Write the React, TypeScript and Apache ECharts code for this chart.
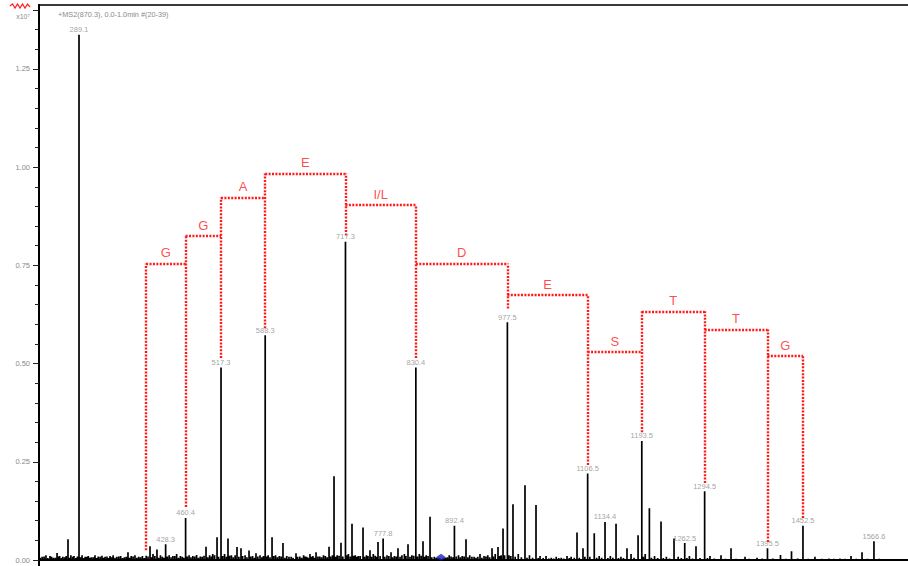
import React, { useEffect, useRef } from "react";
import * as echarts from "echarts";

// ---- data ----
const peakMz = [
  230, 236, 242.5, 248, 253.8, 258, 263, 271.4, 276, 281,
  289.1, 294, 299, 304, 309, 314.8, 320, 326, 331, 338.9,
  344, 350, 356, 362, 367.8, 373, 379, 385, 391, 397,
  403.2, 408, 414.4, 420, 428.3, 434, 440, 446, 452, 460.4,
  466, 472, 478, 484, 493.2, 499, 504, 510.9, 517.3, 523,
  528.5, 534, 543, 549.4, 556, 562.3, 568, 573.5, 580, 588.3,
  593, 599.3, 605, 611, 616.9, 623, 630, 637.8, 644, 650,
  655, 660.3, 665, 670, 676, 682, 690.9, 698.9, 704, 710.1,
  717.3, 722, 727.8, 733, 738, 745.5, 751, 756.7, 762, 769.6,
  777.8, 784, 790.5, 796, 801.7, 808, 812, 817.8, 824, 830.4,
  836, 841.9, 847, 853.2, 860, 866, 878, 884, 892.4, 899,
  905, 911, 917, 924, 933.5, 940, 946, 952.8, 958, 962.4,
  970.5, 977.5, 986.5, 995, 1005.8, 1013, 1023.5, 1030, 1039.6, 1048,
  1056, 1064, 1073.3, 1080, 1089.4, 1099, 1106.5, 1117.1, 1125, 1134.4,
  1143, 1152.1, 1160, 1169.7, 1176.2, 1187.5, 1193.5, 1199, 1205.7, 1214,
  1224.4, 1233, 1245.3, 1252, 1262.5, 1270, 1280.6, 1294.5, 1303.1, 1320.8,
  1336.9, 1359.4, 1378.6, 1395.5, 1416.4, 1434.1, 1452.5, 1471.8, 1494.3, 1512,
  1529.7, 1547.4, 1566.6,
];
const peakIntensity = [
  0.008, 0.012, 0.01, 0.006, 0.018, 0.01, 0.008, 0.053, 0.012, 0.01,
  1.337, 0.012, 0.008, 0.01, 0.007, 0.012, 0.009, 0.011, 0.008, 0.01,
  0.012, 0.008, 0.01, 0.007, 0.02, 0.01, 0.012, 0.008, 0.01, 0.011,
  0.035, 0.015, 0.027, 0.012, 0.04, 0.012, 0.01, 0.015, 0.01, 0.107,
  0.012, 0.01, 0.013, 0.009, 0.034, 0.012, 0.015, 0.058, 0.49, 0.015,
  0.055, 0.012, 0.033, 0.03, 0.012, 0.024, 0.01, 0.017, 0.012, 0.572,
  0.012, 0.058, 0.012, 0.01, 0.043, 0.01, 0.008, 0.017, 0.009, 0.012,
  0.008, 0.015, 0.01, 0.02, 0.009, 0.012, 0.034, 0.213, 0.012, 0.044,
  0.81, 0.015, 0.092, 0.012, 0.01, 0.083, 0.012, 0.025, 0.015, 0.046,
  0.055, 0.012, 0.02, 0.01, 0.03, 0.012, 0.015, 0.04, 0.012, 0.49,
  0.015, 0.048, 0.012, 0.11, 0.008, 0.006, 0.006, 0.012, 0.087, 0.012,
  0.01, 0.053, 0.012, 0.008, 0.015, 0.01, 0.012, 0.03, 0.015, 0.033,
  0.08, 0.605, 0.142, 0.015, 0.19, 0.012, 0.14, 0.01, 0.01, 0.006,
  0.008, 0.006, 0.01, 0.008, 0.07, 0.03, 0.22, 0.068, 0.01, 0.097,
  0.01, 0.092, 0.008, 0.03, 0.015, 0.063, 0.303, 0.015, 0.132, 0.01,
  0.098, 0.008, 0.055, 0.008, 0.043, 0.01, 0.035, 0.175, 0.01, 0.012,
  0.03, 0.008, 0.006, 0.03, 0.013, 0.022, 0.087, 0.008, 0.004, 0.004,
  0.01, 0.02, 0.048,
];
// small baseline blips between the main peaks, [m/z, intensity]
const baselineNoise: [number, number][] = [
  [227, 0.006], [233, 0.009], [239, 0.005], [245, 0.008], [251, 0.006], [256, 0.009], [261, 0.005],
  [266, 0.007], [268.5, 0.01], [274, 0.006], [279, 0.008], [284, 0.005], [286.5, 0.009], [291.5, 0.007],
  [296.5, 0.005], [301.5, 0.008], [306.5, 0.006], [312, 0.007], [317.5, 0.005], [323, 0.008],
  [328.5, 0.006], [334, 0.009], [336.5, 0.005], [341.5, 0.007], [347, 0.006], [353, 0.009],
  [359, 0.005], [365, 0.008], [370.5, 0.006], [376, 0.009], [382, 0.006], [388, 0.007],
  [394, 0.005], [400, 0.009], [405.5, 0.007], [411, 0.01], [417, 0.006], [423, 0.008],
  [425.5, 0.006], [431, 0.009], [437, 0.007], [443, 0.01], [449, 0.006], [455, 0.008],
  [457.5, 0.006], [463, 0.009], [469, 0.007], [475, 0.009], [481, 0.006], [487, 0.008],
  [490, 0.011], [496, 0.007], [502, 0.009], [507, 0.012], [513.5, 0.008], [520, 0.01],
  [526, 0.008], [531, 0.011], [537, 0.007], [540, 0.012], [546, 0.008], [552, 0.01],
  [559, 0.007], [565, 0.009], [571, 0.006], [576.5, 0.009], [583, 0.007], [585.5, 0.01],
  [591, 0.009], [596, 0.007], [602, 0.01], [608, 0.007], [614, 0.009], [620, 0.006],
  [626.5, 0.008], [633, 0.006], [640.5, 0.008], [647, 0.006], [652.5, 0.009], [657.5, 0.006],
  [662.5, 0.008], [667.5, 0.006], [673, 0.009], [679, 0.007], [685, 0.01], [688, 0.007],
  [693.5, 0.009], [696.5, 0.012], [701.5, 0.008], [707, 0.011], [713, 0.009], [719.5, 0.012],
  [725, 0.009], [730.5, 0.011], [735.5, 0.008], [741, 0.01], [748, 0.008], [753.5, 0.01],
  [759, 0.008], [765, 0.011], [767, 0.008], [773, 0.01], [780.5, 0.008], [787, 0.01],
  [793, 0.007], [799, 0.009], [805, 0.008], [814.5, 0.01], [821, 0.008], [827, 0.011],
  [833, 0.009], [839, 0.011], [844.5, 0.008], [850, 0.01], [856, 0.007], [863, 0.006],
  [869, 0.005], [875, 0.005], [881, 0.007], [887, 0.009], [890, 0.007], [895.5, 0.009],
  [902, 0.007], [908, 0.009], [914, 0.007], [920.5, 0.008], [927, 0.006], [930, 0.008],
  [936.5, 0.006], [943, 0.009], [949, 0.007], [955, 0.009], [965, 0.01], [967.5, 0.012],
  [973, 0.012], [980, 0.012], [983, 0.01], [990, 0.008], [1000, 0.007], [1009, 0.006],
  [1018, 0.006], [1027, 0.005], [1035, 0.005], [1044, 0.004], [1052, 0.004], [1060, 0.005],
  [1068, 0.004], [1077, 0.005], [1085, 0.006], [1093, 0.006], [1102, 0.008], [1110, 0.008],
  [1121, 0.006], [1129, 0.006], [1139, 0.005], [1147, 0.006], [1156, 0.005], [1164, 0.005],
  [1181, 0.006], [1196, 0.008], [1209, 0.006], [1219, 0.005], [1228, 0.005], [1238, 0.004],
  [1257, 0.005], [1266, 0.005], [1275, 0.004], [1287, 0.005], [1299, 0.005], [1310, 0.004],
  [1328, 0.003], [1345, 0.003], [1366, 0.003], [1387, 0.004], [1404, 0.004], [1425, 0.003],
  [1444, 0.004], [1461, 0.003], [1483, 0.003], [1502, 0.003], [1520, 0.003], [1538, 0.003],
  [1556, 0.003], [1575, 0.003], [1590, 0.002], [1605, 0.002],
];
const labeledMz = [
  289.1, 428.3, 460.4, 517.3, 588.3, 717.3, 777.8, 830.4, 892.4,
  977.5, 1106.5, 1134.4, 1193.5, 1262.5, 1294.5, 1395.5, 1452.5, 1566.6,
];
const residues = ["G", "G", "A", "E", "I/L", "D", "E", "S", "T", "T", "G"];
const ladderMz = [397, 460.4, 517.3, 588.3, 717.3, 830.4, 977.5, 1106.5, 1193.5, 1294.5, 1395.5, 1452.5];
const ladderBase = [0.025, 0.135, 0.514, 0.59, 0.826, 0.514, 0.64, 0.242, 0.325, 0.196, 0.046, 0.107];
const bracketTop = [0.755, 0.826, 0.923, 0.984, 0.903, 0.755, 0.674, 0.529, 0.633, 0.587, 0.519];
const precursorMz = 870.8;
const headerText = "+MS2(870.3), 0.0-1.0min #(20-39)";
const scaleText = "x10\u2077";

const FONT = "'Liberation Sans', Arial, Helvetica, sans-serif";

export default function App() {
  const ref = useRef<HTMLDivElement>(null);

  useEffect(() => {
    if (!ref.current) return;
    const chart = echarts.init(ref.current, undefined, { renderer: "svg" });

    const mainPeaks = peakMz.map((m, i) => [m, peakIntensity[i]] as [number, number]);
    const peaks = mainPeaks.concat(baselineNoise).sort((a, b) => a[0] - b[0]);
    const stick: [number, number][] = [];
    peaks.forEach(([m, h]) => {
      stick.push([m, 0], [m, h], [m, 0]);
    });

    const intensityOf = (m: number) => {
      const p = mainPeaks.find((q) => Math.abs(q[0] - m) < 0.05);
      return p ? p[1] : 0;
    };

    const segs: { coords: [number, number][] }[] = [];
    ladderMz.forEach((m, i) => {
      const top = Math.max(i > 0 ? bracketTop[i - 1] : 0, i < bracketTop.length ? bracketTop[i] : 0);
      segs.push({ coords: [[m, ladderBase[i]], [m, top]] });
    });
    bracketTop.forEach((h, i) => {
      segs.push({ coords: [[ladderMz[i], h], [ladderMz[i + 1], h]] });
    });

    const grey = "#8a8a8a";

    chart.setOption({
      animation: false,
      backgroundColor: "#ffffff",
      textStyle: { fontFamily: FONT },
      grid: { left: 39, right: 0, top: 10, bottom: 6, containLabel: false, outerBoundsMode: "none" },
      xAxis: [
        {
          type: "value",
          min: 224.8,
          max: 1621.3,
          axisLine: { show: true, onZero: false, lineStyle: { color: "#000", width: 2 } },
          axisTick: { show: false },
          axisLabel: { show: false },
          splitLine: { show: false },
        },
      ],
      yAxis: [
        {
          type: "value",
          min: 0,
          max: 1.4,
          interval: 0.05,
          axisLine: { show: true, lineStyle: { color: "#000", width: 2 } },
          axisTick: { show: true, length: 4, lineStyle: { color: "#222", width: 1 } },
          axisLabel: { show: false },
          splitLine: { show: false },
        },
        {
          type: "value",
          min: 0,
          max: 1.4,
          interval: 0.25,
          position: "left",
          axisLine: { show: false },
          axisTick: { show: true, length: 6, lineStyle: { color: "#222", width: 1 } },
          axisLabel: {
            show: true,
            margin: 9,
            fontSize: 7.5,
            color: grey,
            fontFamily: FONT,
            formatter: (v: number) => (Math.round(v * 100) % 25 === 0 ? v.toFixed(2) : ""),
          },
          splitLine: { show: false },
        },
      ],
      series: [
        {
          type: "line",
          data: stick,
          showSymbol: false,
          symbol: "none",
          silent: true,
          lineStyle: { color: "#000", width: 1.7 },
          z: 3,
        },
        {
          type: "lines",
          coordinateSystem: "cartesian2d",
          data: segs,
          silent: true,
          lineStyle: { color: "#ff1a1a", width: 2.4, type: [2, 1.4], opacity: 1 },
          z: 5,
        },
        {
          type: "scatter",
          data: labeledMz.map((m) => [m, intensityOf(m)]),
          symbolSize: 0,
          silent: true,
          label: {
            show: true,
            position: "top",
            distance: 1,
            fontSize: 7.5,
            color: grey,
            textBorderWidth: 0,
            fontFamily: FONT,
            formatter: (p: any) => p.value[0].toFixed(1),
          },
          z: 6,
        },
        {
          type: "scatter",
          data: residues.map((r, i) => ({
            name: r,
            value: [(ladderMz[i] + ladderMz[i + 1]) / 2, bracketTop[i]],
          })),
          symbolSize: 0,
          silent: true,
          label: {
            show: true,
            position: "top",
            distance: 4,
            fontSize: 13,
            color: "#ff1a1a",
            textBorderWidth: 0,
            fontFamily: FONT,
            formatter: "{b}",
          },
          z: 6,
        },
        {
          type: "scatter",
          data: [[precursorMz, 0.007]],
          symbol: "diamond",
          symbolSize: [10, 7],
          silent: true,
          itemStyle: { color: "#1f1fc8" },
          z: 7,
        },
      ],
      graphic: [
        { type: "line", shape: { x1: 39, y1: 5, x2: 908, y2: 5 }, style: { stroke: "#3a3a3a", lineWidth: 2 }, silent: true },
        { type: "line", shape: { x1: 39, y1: 4, x2: 39, y2: 11 }, style: { stroke: "#000", lineWidth: 2 }, silent: true },
        { type: "line", shape: { x1: 39, y1: 559, x2: 39, y2: 566 }, style: { stroke: "#000", lineWidth: 2 }, silent: true },
        {
          type: "polyline",
          shape: { points: [[10, 6], [12.5, 4], [15, 8], [17.5, 4], [20, 8], [22.5, 4], [25, 8], [27.5, 4], [30, 7]] },
          style: { stroke: "#ff2020", lineWidth: 1.2, fill: "none" },
          silent: true,
        },
        {
          type: "text",
          x: 30,
          y: 16,
          style: { text: scaleText, fill: grey, fontSize: 7, fontFamily: FONT, align: "right", verticalAlign: "middle" },
          silent: true,
        },
        {
          type: "text",
          x: 58,
          y: 14,
          style: { text: headerText, fill: grey, fontSize: 7.3, fontFamily: FONT, align: "left", verticalAlign: "middle" },
          silent: true,
        },
      ],
    });

    return () => chart.dispose();
  }, []);

  return (
    <div
      ref={ref}
      style={{ position: "fixed", left: 0, top: 0, width: 908, height: 566, background: "#fff" }}
    />
  );
}
